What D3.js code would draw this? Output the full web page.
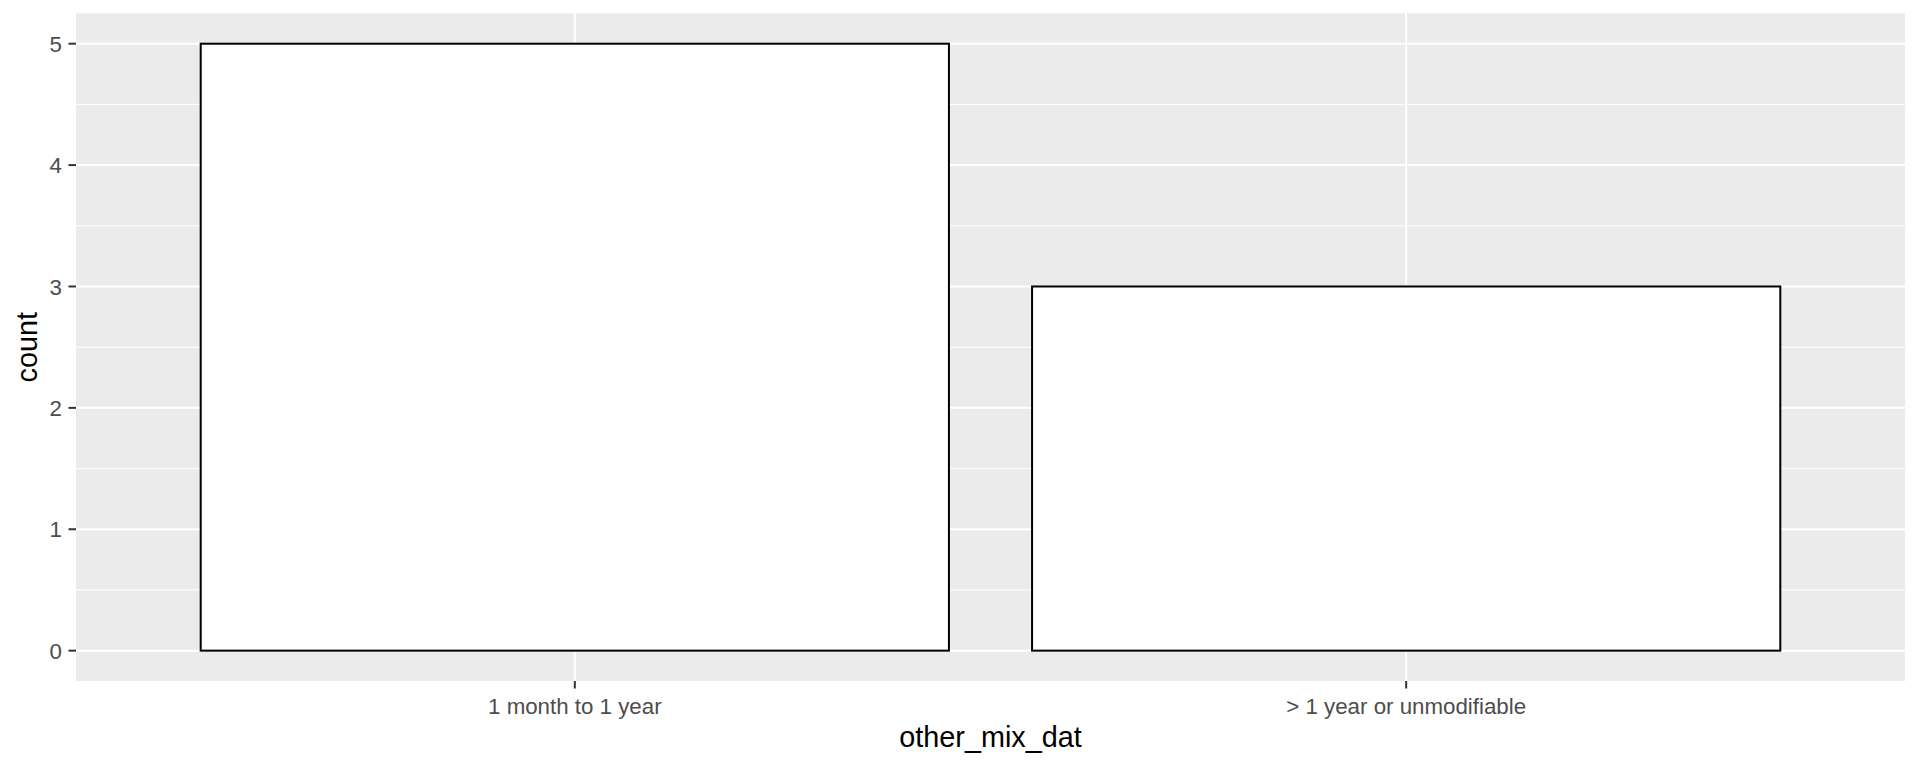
<!DOCTYPE html>
<html>
<head>
<meta charset="utf-8">
<script src="https://cdn.jsdelivr.net/npm/d3@7"></script>
<style>
  html, body { margin: 0; padding: 0; background: #ffffff; }
  svg { display: block; }
</style>
</head>
<body>
<svg id="chart" width="1920" height="768"></svg>
<script>
const categories = ["1 month to 1 year", "> 1 year or unmodifiable"];
const counts = [5, 3];
const yTicks = [0, 1, 2, 3, 4, 5];
const yMinorTicks = [0.5, 1.5, 2.5, 3.5, 4.5];
const xTitle = "other_mix_dat";
const yTitle = "count";

const svg = d3.select("#chart");
const panel = { left: 76, right: 1905, top: 13.35, bottom: 681 };
const font = "'Liberation Sans', Arial, sans-serif";

const x = d3.scaleLinear().domain([0.4, categories.length + 0.6]).range([panel.left, panel.right]);
const y = d3.scaleLinear().domain([-0.25, 5.25]).range([panel.bottom, panel.top]);

svg.append("rect")
  .attr("x", panel.left).attr("y", panel.top)
  .attr("width", panel.right - panel.left).attr("height", panel.bottom - panel.top)
  .attr("fill", "#EBEBEB");

// minor gridlines
svg.append("g").selectAll("line").data(yMinorTicks).join("line")
  .attr("x1", panel.left).attr("x2", panel.right)
  .attr("y1", d => y(d)).attr("y2", d => y(d))
  .attr("stroke", "#ffffff").attr("stroke-width", 1);

// major gridlines
svg.append("g").selectAll("line").data(yTicks).join("line")
  .attr("x1", panel.left).attr("x2", panel.right)
  .attr("y1", d => y(d)).attr("y2", d => y(d))
  .attr("stroke", "#ffffff").attr("stroke-width", 2);
svg.append("g").selectAll("line").data(categories).join("line")
  .attr("x1", (d, i) => x(i + 1)).attr("x2", (d, i) => x(i + 1))
  .attr("y1", panel.top).attr("y2", panel.bottom)
  .attr("stroke", "#ffffff").attr("stroke-width", 2);

// bars
svg.append("g").selectAll("rect").data(counts).join("rect")
  .attr("x", (d, i) => x(i + 1 - 0.45))
  .attr("width", (d, i) => x(i + 1 + 0.45) - x(i + 1 - 0.45))
  .attr("y", d => y(d))
  .attr("height", d => y(0) - y(d))
  .attr("fill", "#ffffff").attr("stroke", "#000000").attr("stroke-width", 2);

// y axis
const ya = svg.append("g");
ya.selectAll("line").data(yTicks).join("line")
  .attr("x1", panel.left - 7.5).attr("x2", panel.left)
  .attr("y1", d => y(d)).attr("y2", d => y(d))
  .attr("stroke", "#333333").attr("stroke-width", 2);
ya.selectAll("text").data(yTicks).join("text")
  .attr("x", panel.left - 14).attr("y", d => y(d)).attr("dy", "0.36em")
  .attr("text-anchor", "end")
  .attr("font-family", font).attr("font-size", 22.3).attr("fill", "#4D4D4D")
  .text(d => d);

// x axis
const xa = svg.append("g");
xa.selectAll("line").data(categories).join("line")
  .attr("x1", (d, i) => x(i + 1)).attr("x2", (d, i) => x(i + 1))
  .attr("y1", panel.bottom).attr("y2", panel.bottom + 7.5)
  .attr("stroke", "#333333").attr("stroke-width", 2);
xa.selectAll("text").data(categories).join("text")
  .attr("x", (d, i) => x(i + 1)).attr("y", 714)
  .attr("text-anchor", "middle")
  .attr("font-family", font).attr("font-size", 22.3).attr("fill", "#4D4D4D")
  .text(d => d);

// titles
svg.append("text")
  .attr("x", (panel.left + panel.right) / 2).attr("y", 747)
  .attr("text-anchor", "middle")
  .attr("font-family", font).attr("font-size", 28.8).attr("fill", "#000000")
  .text(xTitle);
svg.append("text")
  .attr("transform", `translate(37, ${(panel.top + panel.bottom) / 2}) rotate(-90)`)
  .attr("text-anchor", "middle")
  .attr("font-family", font).attr("font-size", 28.8).attr("fill", "#000000")
  .text(yTitle);
</script>
</body>
</html>
